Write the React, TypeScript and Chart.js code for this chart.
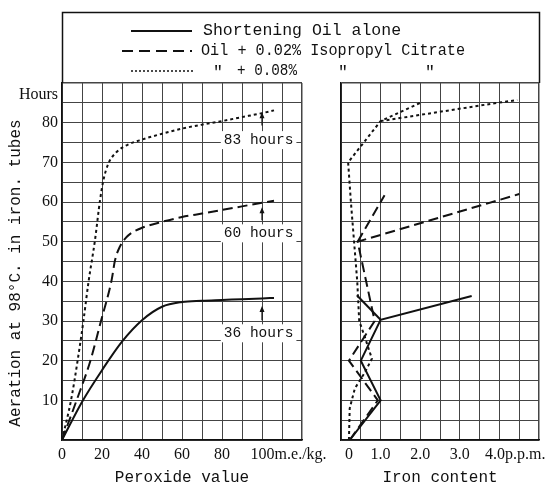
import React, { useEffect, useRef } from "react";
import { Chart, registerables } from "chart.js";
Chart.register(...registerables);

// ---- Left panel: hours vs peroxide value ----
const peroxideAlone = [0, 10, 20, 30, 40, 50, 60, 70, 80, 90, 100, 106];
const hoursAlone = [0, 9.6, 17.6, 24.8, 30.2, 33.6, 34.8, 35.1, 35.3, 35.5, 35.7, 35.8];
const peroxideLow = [0, 7.3, 14.2, 19.5, 24.8, 26.5, 29, 32, 35, 40, 50, 60, 70, 80, 90, 100, 106];
const hoursLow = [0, 10, 20, 30, 40.3, 45.3, 48.8, 51, 52.3, 53.5, 55, 56.2, 57.1, 58, 58.9, 59.8, 60.3];
const peroxideHigh = [0, 4.5, 7.8, 10.7, 13.3, 16.5, 19, 20.7, 23.2, 27.3, 32.3, 40.3, 50, 60, 70, 80, 90, 100, 106];
const hoursHigh = [0, 10, 20, 30, 40, 50.4, 60.4, 65.5, 69.7, 72.6, 74.3, 75.8, 77.2, 78.5, 79.5, 80.4, 81.4, 82.4, 83.1];

// ---- Right panel: hours vs iron content ----
const ironAlone = [0.22, 1.0, 0.5, 1.0, 3.3];
const ironAloneHours = [0, 10, 20, 30.3, 36.3];
const ironAloneBranch = [1.0, 0.4];
const ironAloneBranchHours = [30.3, 36.5];
const ironLow = [0.22, 0.93, 0.2, 0.85, 0.42, 4.5];
const ironLowHours = [0, 10, 20, 30, 50, 62];
const ironLowBranch = [0.42, 1.1];
const ironLowBranchHours = [50, 61.7];
const ironHigh = [0.2, 0.22, 0.35, 0.6, 0.78, 0.6, 0.46, 0.41, 0.33, 0.25, 0.18, 1.0, 2.0];
const ironHighHours = [0, 8, 13, 17, 20.5, 26, 30, 40, 50, 60, 70, 80.4, 85];
const ironHighBranch = [1.0, 3.95, 4.45];
const ironHighBranchHours = [80.4, 85, 85.7];

// ---- Labels ----
const seriesLabels = ["Shortening Oil alone", "Oil + 0.02% Isopropyl Citrate", "Oil + 0.08% Isopropyl Citrate"];
const finalHours = [83, 60, 36];
const hourTickValues = [10, 20, 30, 40, 50, 60, 70, 80];
const peroxideTickValues = [0, 20, 40, 60, 80];
const ironTickValues = [1, 2, 3];

const INK = "#111";
const GRID = "#444";
const MONO = '"Liberation Mono", "DejaVu Sans Mono", monospace';
const SERIF = '"Liberation Serif", "DejaVu Serif", serif';

const pts = (xs: number[], ys: number[]) => xs.map((x, i) => ({ x, y: ys[i] }));

const styleSolid = { borderColor: INK, borderWidth: 2, borderDash: [] as number[] };
const styleDash = { borderColor: INK, borderWidth: 2, borderDash: [10, 5] };
const styleDot = { borderColor: INK, borderWidth: 2, borderDash: [3, 3] };

const HOURS_LABEL_POS = 86.9; // where the "Hours" caption sits on the y axis
const PEROXIDE_UNIT_POS = 113.3; // centre of "100m.e./kg."
const IRON_ZERO_POS = 0.2; // centre of "0"
const IRON_UNIT_POS = 4.4; // centre of "4.0p.p.m."

function range(a: number, b: number, s: number) {
  const out: number[] = [];
  for (let v = a; v <= b + 1e-9; v += s) out.push(Math.round(v * 100) / 100);
  return out;
}

const yScaleCommon = (showLabels: boolean) => ({
  type: "linear" as const,
  min: 0,
  max: 90,
  afterBuildTicks: (s: any) => {
    const vals = range(0, 90, 5);
    if (showLabels) vals.push(HOURS_LABEL_POS);
    vals.sort((a, b) => a - b);
    s.ticks = vals.map((v) => ({ value: v }));
  },
  afterFit: (s: any) => {
    s.width = showLabels ? 62 : 0;
  },
  ticks: {
    display: showLabels,
    autoSkip: false,
    padding: 4,
    color: INK,
    font: { family: SERIF, size: 16 },
    callback: (v: any) => {
      if (v === HOURS_LABEL_POS) return "Hours";
      return hourTickValues.includes(v) ? String(v) : "";
    },
  },
  grid: {
    drawTicks: false,
    color: (c: any) => (c.tick && c.tick.value === HOURS_LABEL_POS ? "rgba(0,0,0,0)" : GRID),
    lineWidth: (c: any) => (c.tick && c.tick.value === 90 ? 1.5 : 1),
  },
  border: { display: true, color: INK, width: 1.5 },
});

const legendPlugin = {
  id: "boxLegend",
  afterDraw(chart: any) {
    const ctx = chart.ctx;
    const top = chart.chartArea.top;
    ctx.save();
    ctx.strokeStyle = INK;
    ctx.lineWidth = 1.5;
    ctx.setLineDash([]);
    ctx.beginPath();
    ctx.moveTo(62.5, top);
    ctx.lineTo(62.5, 12.5);
    ctx.lineTo(539.5, 12.5);
    ctx.lineTo(539.5, top);
    ctx.stroke();

    const rows = [31, 51, 71];
    // samples
    ctx.lineWidth = 2;
    ctx.setLineDash([]);
    ctx.beginPath();
    ctx.moveTo(131, rows[0]);
    ctx.lineTo(192, rows[0]);
    ctx.stroke();
    ctx.setLineDash([11, 6]);
    ctx.beginPath();
    ctx.moveTo(122, rows[1]);
    ctx.lineTo(192, rows[1]);
    ctx.stroke();
    ctx.lineWidth = 1.5;
    ctx.setLineDash([2, 2]);
    ctx.beginPath();
    ctx.moveTo(131, rows[2]);
    ctx.lineTo(195, rows[2]);
    ctx.stroke();
    ctx.setLineDash([]);

    ctx.fillStyle = INK;
    ctx.textBaseline = "middle";
    ctx.textAlign = "left";
    ctx.font = `16.5px ${MONO}`;
    ctx.fillText(seriesLabels[0], 203, rows[0]);
    ctx.fillText(seriesLabels[1], 201, rows[1], 264);
    ctx.fillText('"', 213, rows[2] + 2);
    ctx.fillText("+ 0.08%", 237, rows[2], 60);
    ctx.textAlign = "center";
    ctx.fillText('"', 343, rows[2] + 2);
    ctx.fillText('"', 430, rows[2] + 2);

    // y axis title
    ctx.save();
    ctx.translate(16, 273);
    ctx.rotate(-Math.PI / 2);
    ctx.font = `16px ${MONO}`;
    ctx.textAlign = "center";
    ctx.fillText("Aeration at 98°C. in iron. tubes", 0, 0);
    ctx.restore();
    ctx.restore();
  },
};

const annotationPlugin = {
  id: "hourNotes",
  beforeDatasetsDraw(chart: any) {
    const ctx = chart.ctx;
    const xs = chart.scales.x;
    const ys = chart.scales.y;
    const notes = [
      { text: `${finalHours[0]} hours`, at: 75.6, from: 79.3, to: 82.6 },
      { text: `${finalHours[1]} hours`, at: 52.1, from: 55.4, to: 58.7 },
      { text: `${finalHours[2]} hours`, at: 26.9, from: 30.2, to: 33.8 },
    ];
    const ax = xs.getPixelForValue(100);
    const tx = xs.getPixelForValue(98.3);
    ctx.save();
    ctx.font = `14.5px ${MONO}`;
    ctx.textAlign = "center";
    ctx.textBaseline = "middle";
    for (const n of notes) {
      const ty = ys.getPixelForValue(n.at);
      const w = ctx.measureText(n.text).width;
      ctx.fillStyle = "#fff";
      ctx.fillRect(tx - w / 2 - 3, ty - 9, w + 6, 18);
      ctx.fillStyle = INK;
      ctx.fillText(n.text, tx, ty);
      const y1 = ys.getPixelForValue(n.from);
      const y2 = ys.getPixelForValue(n.to);
      ctx.strokeStyle = INK;
      ctx.lineWidth = 1.2;
      ctx.beginPath();
      ctx.moveTo(ax, y1);
      ctx.lineTo(ax, y2 + 4);
      ctx.stroke();
      ctx.beginPath();
      ctx.moveTo(ax, y2);
      ctx.lineTo(ax - 2.5, y2 + 6);
      ctx.lineTo(ax + 2.5, y2 + 6);
      ctx.closePath();
      ctx.fill();
    }
    ctx.restore();
  },
};

export default function App() {
  const leftRef = useRef<HTMLCanvasElement>(null);
  const rightRef = useRef<HTMLCanvasElement>(null);

  useEffect(() => {
    const left = new Chart(leftRef.current as HTMLCanvasElement, {
      type: "line",
      data: {
        datasets: [
          { label: seriesLabels[0], data: pts(peroxideAlone, hoursAlone), ...styleSolid, pointRadius: 0, cubicInterpolationMode: "monotone", fill: false },
          { label: seriesLabels[1], data: pts(peroxideLow, hoursLow), ...styleDash, pointRadius: 0, cubicInterpolationMode: "monotone", fill: false },
          { label: seriesLabels[2], data: pts(peroxideHigh, hoursHigh), ...styleDot, pointRadius: 0, cubicInterpolationMode: "monotone", fill: false },
        ] as any,
      },
      options: {
        responsive: false,
        animation: false,
        devicePixelRatio: 1,
        layout: { padding: { left: 0, top: 83, right: 247, bottom: 0 } },
        plugins: { legend: { display: false }, tooltip: { enabled: false } },
        scales: {
          x: {
            type: "linear",
            min: 0,
            max: 120,
            afterBuildTicks: (s: any) => {
              const vals = range(0, 120, 10);
              vals.push(PEROXIDE_UNIT_POS);
              vals.sort((a, b) => a - b);
              s.ticks = vals.map((v) => ({ value: v }));
            },
            afterFit: (s: any) => {
              s.height = 47;
            },
            ticks: {
              autoSkip: false,
              maxRotation: 0,
              padding: 5,
              color: INK,
              font: { family: SERIF, size: 16 },
              callback: (v: any) => {
                if (v === PEROXIDE_UNIT_POS) return "100m.e./kg.";
                return peroxideTickValues.includes(v) ? String(v) : "";
              },
            },
            grid: {
              drawTicks: false,
              color: (c: any) => (c.tick && c.tick.value === PEROXIDE_UNIT_POS ? "rgba(0,0,0,0)" : GRID),
              lineWidth: (c: any) => (c.tick && c.tick.value === 120 ? 1.5 : 1),
            },
            border: { display: true, color: INK, width: 1.5 },
            title: { display: true, text: "Peroxide value", color: INK, font: { family: MONO, size: 16 }, padding: { top: 0, bottom: 0 } },
          },
          y: yScaleCommon(true),
        } as any,
      },
      plugins: [legendPlugin, annotationPlugin],
    });

    const right = new Chart(rightRef.current as HTMLCanvasElement, {
      type: "line",
      data: {
        datasets: [
          { label: seriesLabels[0], data: pts(ironAlone, ironAloneHours), ...styleSolid },
          { label: seriesLabels[0] + " (b)", data: pts(ironAloneBranch, ironAloneBranchHours), ...styleSolid },
          { label: seriesLabels[1], data: pts(ironLow, ironLowHours), ...styleDash },
          { label: seriesLabels[1] + " (b)", data: pts(ironLowBranch, ironLowBranchHours), ...styleDash },
          { label: seriesLabels[2], data: pts(ironHigh, ironHighHours), ...styleDot },
          { label: seriesLabels[2] + " (b)", data: pts(ironHighBranch, ironHighBranchHours), ...styleDot },
        ].map((d) => ({ ...d, pointRadius: 0, tension: 0, fill: false })) as any,
      },
      options: {
        responsive: false,
        animation: false,
        devicePixelRatio: 1,
        layout: { padding: { left: 341, top: 83, right: 10, bottom: 0 } },
        plugins: { legend: { display: false }, tooltip: { enabled: false } },
        scales: {
          x: {
            type: "linear",
            min: 0,
            max: 5,
            afterBuildTicks: (s: any) => {
              const vals = range(0, 5, 0.5);
              vals.push(IRON_ZERO_POS, IRON_UNIT_POS);
              vals.sort((a, b) => a - b);
              s.ticks = vals.map((v) => ({ value: v }));
            },
            afterFit: (s: any) => {
              s.height = 47;
            },
            ticks: {
              autoSkip: false,
              maxRotation: 0,
              padding: 5,
              color: INK,
              font: { family: SERIF, size: 16 },
              callback: (v: any) => {
                if (v === IRON_ZERO_POS) return "0";
                if (v === IRON_UNIT_POS) return "4.0p.p.m.";
                return ironTickValues.includes(v) ? v.toFixed(1) : "";
              },
            },
            grid: {
              drawTicks: false,
              color: (c: any) =>
                c.tick && (c.tick.value === IRON_ZERO_POS || c.tick.value === IRON_UNIT_POS) ? "rgba(0,0,0,0)" : GRID,
              lineWidth: (c: any) => (c.tick && c.tick.value === 5 ? 1.5 : 1),
            },
            border: { display: true, color: INK, width: 1.5 },
            title: { display: true, text: "Iron content", color: INK, font: { family: MONO, size: 16 }, padding: { top: 0, bottom: 0 } },
          },
          y: yScaleCommon(false),
        } as any,
      },
    });

    return () => {
      left.destroy();
      right.destroy();
    };
  }, []);

  const canvasStyle: React.CSSProperties = { position: "absolute", left: 0, top: 0, width: 549, height: 487 };
  return (
    <div style={{ position: "absolute", left: 0, top: 0, width: 549, height: 487, background: "#fff" }}>
      <canvas ref={leftRef} width={549} height={487} style={canvasStyle} />
      <canvas ref={rightRef} width={549} height={487} style={canvasStyle} />
    </div>
  );
}
